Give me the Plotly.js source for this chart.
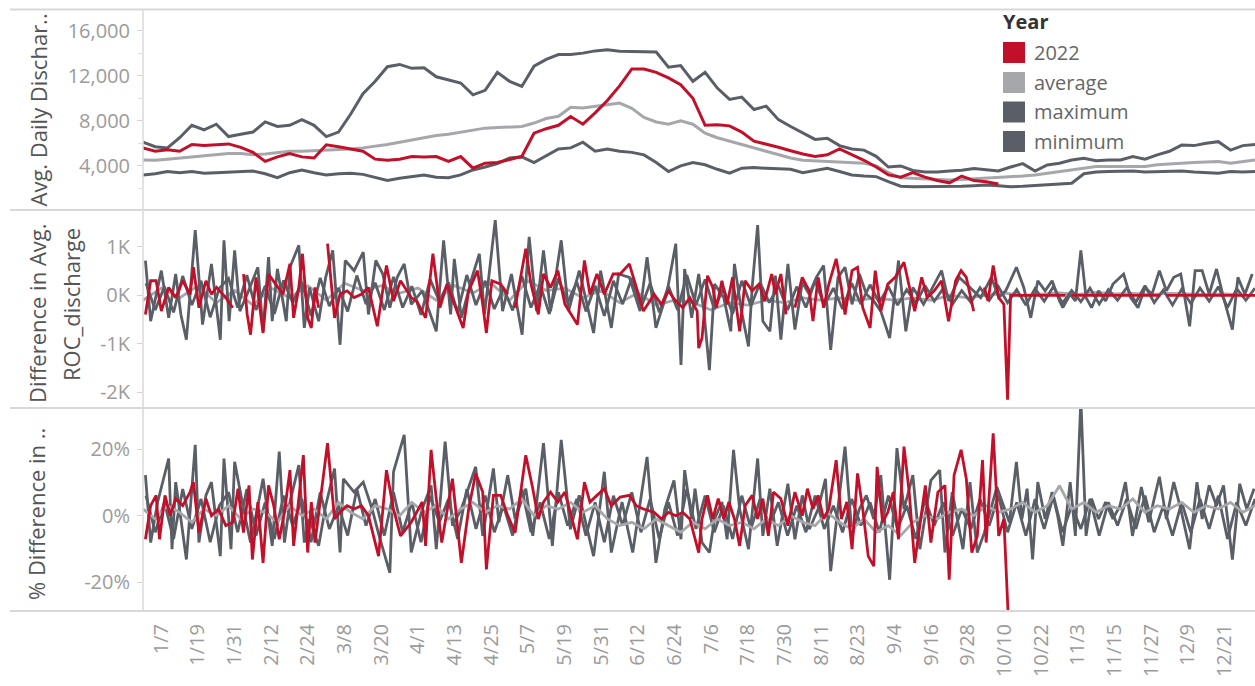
<!DOCTYPE html>
<html>
<head>
<meta charset="utf-8">
<script src="https://cdn.plot.ly/plotly-3.0.1.min.js"></script>
<style>html,body{margin:0;padding:0;background:#fff;}#chart{width:1255px;height:686px;}</style>
</head>
<body>
<div id="chart"></div>
<script>
// ---------- tick labels ----------
const tickDays = [7,19,31,43,55,67,79,91,103,115,127,139,151,163,175,187,199,211,223,235,247,259,271,283,295,307,319,331,343,355];
const tickLabels = ['1/7','1/19','1/31','2/12','2/24','3/8','3/20','4/1','4/13','4/25','5/7','5/19','5/31','6/12','6/24','7/6','7/18','7/30','8/11','8/23','9/4','9/16','9/28','10/10','10/22','11/3','11/15','11/27','12/9','12/21'];
const seriesNames = ['2022','average','maximum','minimum'];

// ---------- panel 1: Avg. daily discharge (every 4th day from Jan 1) ----------
const dischargeStart = 1, dischargeStep = 4;
const discharge2022 = [5600,5300,5430,5300,5900,5800,5870,5950,5650,5200,
 4400,4800,5100,4800,4700,5870,5700,5500,5300,4600,
 4500,4600,4830,4800,4830,4400,4830,3800,4240,4300,
 4550,4830,6900,7300,7600,8380,7700,8700,9800,11100,
 12600,12600,12300,11800,11200,10000,7600,7640,7550,7000,
 6200,5950,5650,5350,5050,4830,4980,5500,5000,4500,
 3900,3200,3000,3400,3000,2700,2500,3100,2700,2600,
 2400];
const dischargeAvg = [4530,4500,4600,4700,4800,4930,5000,5090,5100,5000,
 5050,5200,5300,5300,5350,5400,5420,5500,5600,5720,
 5900,6100,6310,6500,6700,6800,7000,7200,7350,7400,
 7450,7490,7800,8200,8400,9200,9130,9300,9420,9570,
 9100,8300,7900,7700,8000,7700,6900,6500,6200,5900,
 5600,5300,5050,4700,4500,4450,4380,4350,4300,4240,
 4000,3400,2950,2900,2800,2760,2760,2800,2850,2900,
 2950,3050,3100,3200,3350,3500,3640,3800,3940,3940,
 3940,3940,3950,4100,4200,4240,4300,4350,4380,4240,
 4400,4530];
const dischargeMax = [6100,5700,5600,6500,7600,7200,7700,6600,6800,7000,
 7900,7500,7600,8100,7600,6600,7000,8600,10400,11500,
 12800,13000,12650,12700,11900,11600,11350,10300,10700,12300,
 11500,11050,12850,13450,13870,13870,14000,14200,14300,14160,
 14160,14160,14100,12750,12900,11500,12300,10900,9900,10100,
 9000,9300,8100,7500,6900,6350,6460,5800,5500,5400,
 4850,3900,4000,3600,3450,3450,3550,3620,3760,3640,
 3550,3900,4200,3550,4090,4240,4530,4680,4450,4530,
 4530,4830,4600,4980,5300,5850,5800,6000,6150,5400,
 5800,5900];
const dischargeMin = [3200,3300,3500,3400,3500,3350,3400,3450,3500,3550,
 3300,2950,3400,3640,3400,3200,3300,3350,3250,3000,
 2700,2900,3050,3200,3000,2950,3200,3640,3900,4200,
 4700,4800,4300,4900,5500,5600,6100,5300,5500,5300,
 5200,4980,4300,3500,4000,4300,4100,3700,3350,3800,
 3850,3790,3750,3700,3400,3600,3790,3500,3200,3100,
 3050,2600,2200,2160,2160,2160,2160,2200,2250,2300,
 2250,2160,2200,2250,2310,2350,2460,3300,3450,3500,
 3500,3550,3450,3500,3500,3550,3450,3400,3350,3500,
 3450,3500];

// ---------- panel 2: Difference in ROC_discharge ----------
const rocMaxDay = [1.8,3.5,7.0,9.4,11.7,13.4,15.2,18.1,20.5,23.4,
 26.3,27.5,29.2,31.0,32.7,35.1,38.6,40.3,42.1,43.3,
 45.0,47.9,49.1,52.0,53.8,55.5,58.5,60.8,63.1,65.5,
 67.2,70.1,73.1,74.8,77.2,79.5,81.8,84.2,86.5,88.8,
 92.4,97.0,99.4,101.7,102.9,105.2,108.7,111.1,112.8,116.3,
 118.7,121.6,125.1,127.4,129.8,132.1,134.4,137.9,140.3,143.8,
 148.5,150.8,154.3,156.7,160.2,163.7,166.0,168.9,172.4,175.4,
 177.1,178.3,180.6,182.9,184.6,186.4,188.1,191.1,193.4,194.6,
 196.9,199.2,200.4,202.2,203.9,206.2,208.0,209.8,212.1,214.4,
 216.8,219.1,221.4,223.8,226.1,228.5,230.8,233.1,235.5,237.8,
 240.2,242.5,245.4,248.3,250.7,253.0,256.5,258.9,262.4,264.7,
 268.2,271.7,275.2,278.7,281.1,283.4,286.9,289.3,291.6,293.9,
 296.3,298.6,301.0,302.1,304.5,306.2,308.0,309.7,311.5,313.8,
 316.1,318.5,322.0,324.3,326.7,329.0,331.3,333.7,336.0,338.4,
 340.7,343.6,345.4,347.7,350.0,352.4,354.7,357.6,359.4,361.7,
 364.1];
const rocMaxVal = [719,-531,510,-462,441,-392,-913,1344,-601,649,
 -913,1135,-531,927,-323,24,580,-740,788,-531,
 545,-531,580,1031,-670,163,-531,372,927,-1017,
 719,510,892,-392,719,441,-253,372,649,-184,
 94,-740,1135,-392,753,-462,372,858,-392,1552,
 -323,441,-809,1205,-323,927,-323,1135,-323,510,
 -774,510,-670,441,372,-323,788,-670,24,1066,
 -1434,545,-462,441,-323,-1538,233,-45,-740,649,
 -323,-1052,163,1448,-531,-740,406,-913,649,-705,
 267,24,372,615,-1121,372,580,-184,441,24,
 -115,-323,-878,719,-740,163,-184,94,510,-115,
 372,163,-45,372,-45,94,580,163,-462,302,
 94,302,-115,-253,24,-115,927,-45,-253,94,
 -115,233,441,-45,-253,163,24,510,94,372,
 441,-636,510,510,24,545,-45,-705,372,24,
 441];
const rocMinStart = 2, rocMinStep = 3;
const rocMinVal = [250,-300,180,-350,400,-200,300,-450,150,350,
 -250,420,-300,200,-380,310,-150,280,-420,360,
 -220,150,-330,410,-180,260,-300,380,-250,190,
 -400,330,-120,270,-350,420,-200,300,-280,150,
 -310,400,-250,220,-380,350,-150,280,-330,200,
 -420,300,-180,360,-260,250,-350,190,-300,420,
 -200,330,-280,150,-380,300,-220,260,-150,200,
 -300,180,-250,300,-200,150,-280,250,-180,220,
 -150,180,-200,120,-160,200,-120,150,-180,100,
 -140,160,-100,180,-150,120,-200,140,-120,180,
 -160,100,-130,150,-180,120,-100,160,-140,200,
 -150,110,-200,130,-170,150,-120,180,-250,140,
 -100,150];
const rocAvgStart = 1, rocAvgStep = 6;
const rocAvgVal = [-100,150,-50,200,-150,100,-200,150,-50,200,
 -100,250,100,200,50,150,-100,200,50,250,
 -100,300,100,150,-50,100,-150,50,-200,-100,
 -150,-300,-150,-200,-100,-150,-50,-100,-50,-100,
 -50,-100,-50,-100,0,-50,0,50,0,30,
 50,20,60,30,40,20,40,30,20,30,
 10];
const rocRedDay = [1.8,3.5,5.3,7.0,9.4,11.7,14.0,16.4,17.5,19.3,
 21.6,23.4,25.1,28.1,30.4,32,33.9,35.1,36.2,38.0,
 40.3,42.1,44.4,46.8,49.1,50.3,52.0,53.2,54.9,56.1,
 57.3,58.5,60,61.4,63.7,65.5,67.8,70.1,72.5,74.8,
 77.7,80.7,83.0,85.3,88.8,90.6,93.5,95.9,98.2,100.5,
 102.9,105.8,107.6,110.5,112.2,113.4,115.2,118.1,120.4,122,
 122.8,126.3,128.0,130.4,132.1,134.4,136.8,139.1,143.2,145.5,
 147.3,149.6,152.0,154.9,157.2,160.2,162.5,164.8,168.3,170.7,
 173.0,175.4,177.7,180.0,182.4,182.9,184.0,185.8,187.5,188.7,
 190.5,192.2,194.0,196.3,198.1,200.4,202.7,204.5,206.8,208.0,
 209.8,211.5,213,214.4,216.8,219.1,220.3,222.0,223.8,225.5,
 227.9,229.6,230.8,233.1,234.9,236.6,239.0,240.7,242.5,244.8,
 247.2,250.1,251.8,253.6,255.9,257.7,260.0,262.4,264.7,267.0,
 268.8,270.5,272.9,274.5,276.4,277.6,279.3,281.1,282.8,284.0,
 285.0,303,304,305,334,335,336,365];
const rocRedVal = [-392,302,302,-323,163,-45,302,24,580,-253,
 302,24,163,-45,-253,null,441,-392,-809,372,
 -774,441,233,24,649,-462,163,858,-462,-670,
 163,-253,null,1066,-462,24,94,-45,24,163,
 -636,615,-115,302,-45,-115,-462,858,-253,233,
 -184,-670,94,510,-184,-774,302,233,24,null,
 -253,962,233,-392,441,163,510,-184,-601,719,
 24,441,24,441,441,649,163,-323,24,-184,
 94,-115,-253,-45,-323,-1087,-878,406,163,-253,
 302,-184,372,-740,302,94,233,-115,441,24,
 441,-392,null,-253,372,94,-531,372,-253,233,
 753,163,-392,510,580,-253,-670,510,-323,233,
 372,684,163,-323,372,-45,94,302,-531,302,
 510,372,-323,null,163,-115,615,-45,-184,-2150,
 0,0,null,0,0,null,0,0];

// ---------- panel 3: % Difference ----------
const pctMaxDay = [1.8,3.5,5.8,9.4,10.5,11.7,13.4,15.2,18.1,19.3,
 21.6,23.4,26.3,27.5,29.8,31.0,33.9,36.2,38.6,40.3,
 43.3,45.6,47.3,49.1,52.0,53.8,55.5,58.5,60.8,63.7,
 65.5,66.6,70.1,73.1,76.0,78.3,81.8,83.0,86.5,88.8,
 92.4,95.3,97.0,99.9,102.3,105.2,109.9,112.2,115.7,117.5,
 120.4,122.8,126.3,128.6,132.1,135.0,137.9,140.9,143.8,148.5,
 152.0,154.3,157.8,161.3,166.0,168.9,171.8,174.8,177.1,178.3,
 180.6,181.7,184.0,186.4,188.1,190.5,192.2,194.3,196.3,199.2,
 202.2,203.9,206.2,208.6,212.1,214.4,216.8,219.1,222.0,224.4,
 226.1,228.5,230.8,233.1,235.5,237.8,240.2,242.5,245.4,247.8,
 250.1,253.0,255.3,258.9,261.8,263.5,265.9,269.4,271.7,274.1,
 276.4,280.5,282.2,284.6,286.9,288.7,290.4,292.2,293.9,296.3,
 298.6,300.4,302.1,304.5,306.2,308.0,309.7,311.5,313.8,316.1,
 318.5,320.8,322.6,324.9,327.8,330.2,333.7,336.0,338.4,340.7,
 343.6,346.0,347.7,350.0,352.4,354.7,357.6,360.0,362.3,364.7];
const pctMaxVal = [12.2,-8.1,4.1,17.2,-10.1,10.1,-1.0,-13.2,21.3,-8.1,
 6.1,10.1,-12.2,17.2,-10.1,16.2,2.0,-8.1,3.0,11.1,
 -9.1,19.3,-8.1,4.1,15.2,-8.1,-1.0,-9.1,3.0,14.2,
 -11.1,11.1,7.1,10.1,2.0,-6.1,-17.2,13.2,24.3,-11.1,
 2.0,9.1,-10.1,22.3,-3.0,2.0,14.7,-6.1,14.2,-2.0,
 12.2,-1.0,8.1,-6.1,21.8,-9.1,22.8,-4.1,6.1,-12.2,
 13.2,-11.1,4.1,-11.1,17.7,-14.2,2.0,10.6,-7.1,13.7,
 -1.0,8.1,-8.1,-11.1,-1.0,4.1,-7.1,19.8,2.0,-10.1,
 17.2,-6.1,8.1,-9.1,9.6,-7.1,6.1,-4.1,2.0,11.1,
 -16.7,2.0,20.8,-6.1,2.0,6.1,-1.0,12.2,-19.3,20.3,
 2.0,12.2,-10.1,10.6,13.7,-11.1,7.1,-10.1,10.1,-11.1,
 -5.1,8.6,4.1,-2.0,16.2,-1.0,8.1,-13.2,10.1,-1.0,
 7.1,0,-9.1,10.1,-6.1,35,-6.1,5.1,-1.0,4.1,
 -1.0,3.0,10.1,-6.1,8.6,-2.0,11.7,-1.0,10.1,2.0,
 -10.1,10.1,-1.0,9.1,3.0,9.1,-13.2,9.6,2.0,8.1];
const pctMinStart = 2, pctMinStep = 3;
const pctMinVal = [6,-5,4,-7,8,-4,5,-8,3,7,
 -5,8,-6,4,-7,6,-3,5,-8,7,
 -4,3,-6,8,-3,5,-6,7,-5,4,
 -8,6,-2,5,-7,8,-4,6,-5,3,
 -6,8,-5,4,-7,7,-3,5,-6,4,
 -8,6,-3,7,-5,5,-7,4,-6,8,
 -4,6,-5,3,-7,6,-4,5,-3,4,
 -6,3,-5,6,-4,3,-5,5,-3,4,
 -5,6,-4,3,-7,5,-3,4,-6,2,
 -4,5,-3,6,-5,4,-6,5,-4,6,
 -5,3,-4,5,-6,4,-3,5,-4,6,
 -5,3,-6,4,-5,5,-4,6,-7,4,
 -3,5];
const pctAvgStart = 1, pctAvgStep = 4;
const pctAvgVal = [2,-1,3,1,-2,2,0,3,-1,2,
 1,-2,3,0,2,-1,4,1,-1,3,
 2,0,4,1,3,-1,2,4,1,3,
 2,5,0,3,2,4,1,3,-1,-3,
 -2,-4,-1,-3,-5,-2,-4,-1,-3,-2,
 -4,-1,-3,0,-2,-3,1,-2,-4,-1,
 -5,-3,-6,-2,0,-1,1,2,0,3,
 1,2,4,1,3,9,2,4,1,3,
 2,5,1,3,2,4,1,3,2,4,
 1,3];
const pctRedDay = [1.8,3.5,5.3,6.4,8.2,9.9,11.7,14.0,16.4,17.5,
 19.3,21.6,23.4,25.7,28.1,30.4,32.1,33.9,35.7,36.8,
 38.6,40.3,42.1,43.8,45.6,47.3,49.1,50.3,52.0,53.5,
 54.9,56.1,57.3,59.0,61.4,63.7,65.5,67.8,70.1,72.5,
 74.8,78.1,80.7,83.0,85.3,88.8,92.4,93.5,95.3,97.0,
 98.8,102.3,105.2,107.6,109.9,112.2,113.4,115.7,118.1,120.4,
 122.8,126.3,128.6,130.4,132.1,134.4,136.8,139.1,143.2,145.5,
 147.3,149.6,152.0,154.3,157.2,160.2,162.5,164.8,168.3,170.7,
 173.0,175.4,177.7,180.0,182.9,184.0,185.8,187.5,189.3,191.1,
 192.8,194.6,196.3,198.1,200.4,202.2,203.9,205.7,207.4,209.8,
 212.1,214.4,216.8,218.5,220.3,222.0,223.8,225.5,227.9,229.6,
 231.4,233.1,234.9,236.6,238.4,240.2,241.3,243.1,244.8,246.6,
 248.3,250.1,251.8,253.6,255.3,257.1,258.9,261.2,263.5,264.9,
 266.5,268.8,270.5,272.3,274.1,275.8,277.0,279.3,281.1,282.8,
 284.3];
const pctRedVal = [-7.1,3.0,6.1,-7.1,6.1,0,5.1,3.0,7.1,10.1,
 -5.1,5.1,0,2.0,-3.0,-2.0,8.1,-5.1,9.1,-13.2,
 4.1,-14.2,9.1,3.0,-7.1,1.0,13.7,-9.1,5.1,18.2,
 -11.1,4.1,-8.1,4.1,21.8,-1.0,1.0,3.0,2.0,3.0,
 0,-12.2,13.7,2.0,-6.1,-2.0,4.1,-9.1,19.8,5.1,
 -8.1,11.1,-14.2,2.0,12.7,7.1,-16.2,6.1,6.1,0,
 -5.1,18.2,8.1,-1.0,4.1,7.1,4.1,7.1,-7.1,10.1,
 4.1,6.1,8.1,3.0,5.6,6.1,3.0,2.0,1.0,-1.0,
 1.0,0,1.0,-1.0,-11.1,-1.0,6.1,-1.0,5.1,-1.0,
 4.1,-1.0,-9.1,3.0,6.1,-1.0,5.1,-6.1,7.1,5.1,
 -3.0,7.1,0,8.1,2.0,6.1,-1.0,2.0,16.7,-1.0,
 4.1,-10.1,12.7,2.0,-12.2,-15.2,14.7,-2.0,1.0,7.1,
 -7.1,20.8,7.1,-14.2,-3.0,9.1,-8.1,7.1,9.1,-19.3,
 12.2,19.8,11.1,-11.1,-6.1,16.7,-8.1,24.8,-6.1,-1.0,
 -32];

// ---------- styling ----------
const RED = '#c3102a', LIGHT = '#a5a7ab', DARK = '#5a5f67';
const seriesColors = [RED, LIGHT, DARK, DARK];
const W = 1255, H = 686, L = 143;
const px = p => (p - L) / (W - L);
const py = p => 1 - p / H;
const FONT = 'Open Sans, Noto Sans, sans-serif';
const seq = (start, step, n) => Array.from({length: n}, (_, i) => start + step * i);

function tr(x, y, color, width, xa, ya) {
  return {x, y, type: 'scatter', mode: 'lines', line: {color, width, shape: 'linear'},
          xaxis: xa, yaxis: ya, showlegend: false, hoverinfo: 'skip', connectgaps: false};
}
const d1 = n => seq(dischargeStart, dischargeStep, n);
const traces = [
  tr(d1(dischargeMin.length), dischargeMin, DARK, 3, 'x', 'y'),
  tr(d1(dischargeMax.length), dischargeMax, DARK, 3, 'x', 'y'),
  tr(d1(dischargeAvg.length), dischargeAvg, LIGHT, 3, 'x', 'y'),
  tr(d1(discharge2022.length), discharge2022, RED, 3, 'x', 'y'),

  tr(seq(rocAvgStart, rocAvgStep, rocAvgVal.length), rocAvgVal, LIGHT, 2.8, 'x2', 'y2'),
  tr(seq(rocMinStart, rocMinStep, rocMinVal.length), rocMinVal, DARK, 2.8, 'x2', 'y2'),
  tr(rocMaxDay, rocMaxVal, DARK, 2.8, 'x2', 'y2'),
  tr(rocRedDay, rocRedVal, RED, 2.8, 'x2', 'y2'),

  tr(seq(pctMinStart, pctMinStep, pctMinVal.length), pctMinVal, DARK, 2.8, 'x3', 'y3'),
  tr(pctMaxDay, pctMaxVal, DARK, 2.8, 'x3', 'y3'),
  tr(seq(pctAvgStart, pctAvgStep, pctAvgVal.length), pctAvgVal, LIGHT, 2.8, 'x3', 'y3'),
  tr(pctRedDay, pctRedVal, RED, 2.8, 'x3', 'y3')
];

const TICKFONT = {family: FONT, size: 20, color: '#9b9b9b'};
const xBase = {range: [1, 365], showgrid: false, zeroline: false, showline: false, ticks: '',
               showticklabels: false, fixedrange: true, domain: [0, 1]};
const yBase = {showgrid: false, zeroline: false, showline: false, ticks: 'outside', ticklen: 5,
               tickcolor: '#d4d4d4', tickwidth: 1, tickfont: TICKFONT, fixedrange: true,
               tickmode: 'array', ticklabelstandoff: 3};

const shapes = [];
[9.5, 210, 408, 611].forEach(yy => shapes.push({type: 'line', xref: 'paper', yref: 'paper',
  x0: px(10), x1: px(W), y0: py(yy), y1: py(yy), line: {color: '#d8d8d8', width: 2}}));
shapes.push({type: 'line', xref: 'paper', yref: 'paper', x0: 0, x1: 0, y0: py(9.5), y1: py(611),
  line: {color: '#d8d8d8', width: 1.5}});

const TITLEFONT = {family: FONT, size: 22, color: '#555555'};
const annotations = [
  {text: 'Avg. Daily Dischar..', textangle: -90, x: px(37), y: py(12), xanchor: 'center', yanchor: 'top'},
  {text: 'Difference in Avg.', textangle: -90, x: px(37), y: py(405), xanchor: 'center', yanchor: 'bottom'},
  {text: 'ROC_discharge', textangle: -90, x: px(71), y: py(305), xanchor: 'center', yanchor: 'middle'},
  {text: '% Difference in ..', textangle: -90, x: px(36), y: py(602), xanchor: 'center', yanchor: 'bottom'}
].map(a => Object.assign({xref: 'paper', yref: 'paper', showarrow: false, font: TITLEFONT}, a));

// legend (Tableau-style colour squares)
annotations.push({text: '<b>Year</b>', xref: 'paper', yref: 'paper', x: px(1001), y: py(22),
  xanchor: 'left', yanchor: 'middle', showarrow: false, font: {family: FONT, size: 20, color: '#333'}});
const legendRows = [52.5, 82.5, 112, 141.5];
seriesNames.forEach((name, i) => {
  const c = legendRows[i];
  shapes.push({type: 'rect', xref: 'paper', yref: 'paper', x0: px(1003), x1: px(1025),
    y0: py(c + 10.5), y1: py(c - 10.5), fillcolor: seriesColors[i], line: {width: 0}});
  annotations.push({text: name, xref: 'paper', yref: 'paper', x: px(1032), y: py(c),
    xanchor: 'left', yanchor: 'middle', showarrow: false, font: {family: FONT, size: 20, color: '#666'}});
});

const layout = {
  width: W, height: H, margin: {l: L, r: 0, t: 0, b: 0, pad: 0},
  paper_bgcolor: '#fff', plot_bgcolor: '#fff', showlegend: false,
  font: {family: FONT},
  xaxis: Object.assign({}, xBase, {anchor: 'y'}),
  xaxis2: Object.assign({}, xBase, {anchor: 'y2'}),
  xaxis3: Object.assign({}, xBase, {anchor: 'y3', showticklabels: true, tickmode: 'array',
    tickvals: tickDays, ticktext: tickLabels, tickangle: -90, tickfont: TICKFONT, ticklabelstandoff: 8}),
  yaxis: Object.assign({}, yBase, {domain: [py(210), py(9.5)], range: [90, 17870],
    tickvals: [4000, 8000, 12000, 16000], tickformat: ',',
    minor: {tickmode: 'array', tickvals: [2000, 6000, 10000, 14000], ticks: 'outside', ticklen: 4, tickcolor: '#e0e0e0'}}),
  yaxis2: Object.assign({}, yBase, {domain: [py(408), py(210)], range: [-2320, 1760],
    tickvals: [-2000, -1000, 0, 1000], ticktext: ['-2K', '-1K', '0K', '1K']}),
  yaxis3: Object.assign({}, yBase, {domain: [py(611), py(408)], range: [-28.7, 32.4],
    tickvals: [-20, 0, 20], ticktext: ['-20%', '0%', '20%']}),
  shapes, annotations
};

Plotly.newPlot('chart', traces, layout, {displayModeBar: false, staticPlot: true});
</script>
</body>
</html>
